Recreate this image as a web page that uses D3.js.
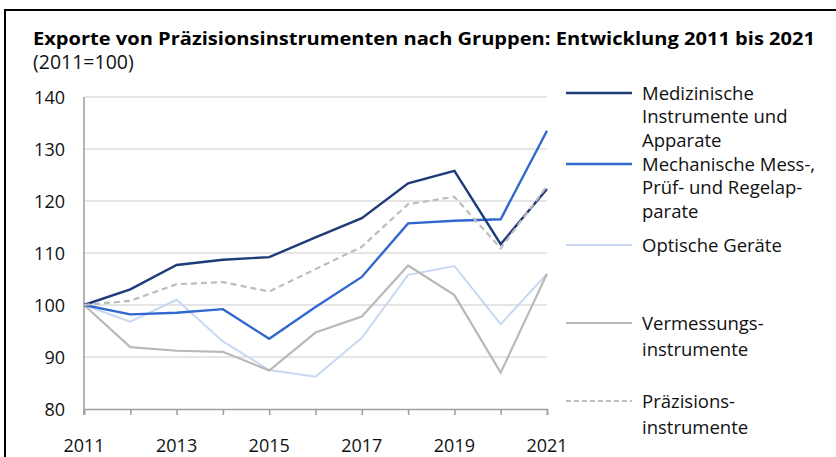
<!DOCTYPE html>
<html>
<head>
<meta charset="utf-8">
<script src="https://cdn.jsdelivr.net/npm/d3@7"></script>
<style>
  body { margin: 0; background: #fff; }
  svg { display: block; font-family: "Open Sans", sans-serif; }
</style>
</head>
<body>
<svg id="chart" width="836" height="457"></svg>
<script>
var years = [2011, 2012, 2013, 2014, 2015, 2016, 2017, 2018, 2019, 2020, 2021]
var yTicks = [80, 90, 100, 110, 120, 130, 140]
var xLabels = [2011, 2013, 2015, 2017, 2019, 2021]

var medizinische = [100, 103, 107.7, 108.7, 109.2, 113, 116.7, 123.4, 125.8, 111.7, 122.3]
var mechanische = [100, 98.2, 98.5, 99.2, 93.5, 99.6, 105.4, 115.7, 116.2, 116.5, 133.5]
var optische = [100, 96.8, 101, 93, 87.5, 86.2, 93.7, 105.8, 107.5, 96.3, 106]
var vermessung = [100, 91.9, 91.2, 91.0, 87.4, 94.7, 97.8, 107.6, 101.9, 87, 106]
var praezision = [100, 100.8, 104, 104.4, 102.6, 106.9, 111.2, 119.4, 120.8, 110.9, 122.9]

var seriesNames = [
    ["Medizinische", "Instrumente und", "Apparate"],
    ["Mechanische Mess-,", "Prüf- und Regelap-", "parate"],
    ["Optische Geräte"],
    ["Vermessungs-", "instrumente"],
    ["Präzisions-", "instrumente"]
]

var svg = d3.select("#chart")

// frame
svg.append("rect")
    .attr("x", 5).attr("y", 10)
    .attr("width", 840).attr("height", 460)
    .attr("fill", "none")
    .attr("stroke", "#000")
    .attr("stroke-width", 2)

svg.append("text")
    .attr("x", 33).attr("y", 45)
    .attr("font-size", 17.5)
    .attr("font-weight", "bold")
    .attr("fill", "#000")
    .attr("textLength", 782)
    .attr("lengthAdjust", "spacingAndGlyphs")
    .text("Exporte von Präzisionsinstrumenten nach Gruppen: Entwicklung 2011 bis 2021")

svg.append("text")
    .attr("x", 33).attr("y", 69)
    .attr("font-size", 19.5)
    .attr("fill", "#111")
    .text("(2011=100)")

var x = d3.scaleLinear().domain([2011, 2021]).range([84, 547])
var y = d3.scaleLinear().domain([80, 140]).range([409, 97])

// grid
svg.append("g")
    .selectAll("line")
    .data(yTicks.filter(d => d > 80))
    .enter()
    .append("line")
    .attr("x1", x(2011)).attr("x2", x(2021))
    .attr("y1", d => y(d)).attr("y2", d => y(d))
    .attr("stroke", "#dcdcdc")
    .attr("stroke-width", 1.3)

// y labels
svg.append("g")
    .selectAll("text")
    .data(yTicks)
    .enter()
    .append("text")
    .attr("x", 65)
    .attr("y", d => y(d) + 6.5)
    .attr("text-anchor", "end")
    .attr("font-size", 18)
    .attr("fill", "#111")
    .text(d => d)

// x axis
var xAxis = d3.axisBottom(x)
    .tickValues(years)
    .tickSize(6)
    .tickFormat("")
var gx = svg.append("g")
    .attr("transform", "translate(0," + y(80) + ")")
    .call(xAxis)
gx.select(".domain").attr("stroke", "#a0a0a0").attr("stroke-width", 1.6)
gx.selectAll(".tick line").attr("stroke", "#a0a0a0").attr("stroke-width", 1.6)

svg.append("line")
    .attr("x1", x(2011)).attr("x2", x(2011))
    .attr("y1", y(140)).attr("y2", y(80) + 6)
    .attr("stroke", "#a0a0a0")
    .attr("stroke-width", 1.6)

svg.append("g")
    .selectAll("text")
    .data(xLabels)
    .enter()
    .append("text")
    .attr("x", d => x(d))
    .attr("y", 452)
    .attr("text-anchor", "middle")
    .attr("font-size", 18)
    .attr("fill", "#111")
    .text(d => d)

var series = [
    {values: optische, color: "#c8d8f3", width: 2, dash: null, legend: 2},
    {values: vermessung, color: "#b9b9b9", width: 2.2, dash: null, legend: 3},
    {values: mechanische, color: "#3068cf", width: 2.4, dash: null, legend: 1},
    {values: medizinische, color: "#1e3b78", width: 2.4, dash: null, legend: 0},
    {values: praezision, color: "#bdbdbd", width: 2.2, dash: "6,4", legend: 4}
]

var line = d3.line()
    .x((d, i) => x(years[i]))
    .y(d => y(d))

svg.append("g")
    .selectAll("path")
    .data(series)
    .enter()
    .append("path")
    .attr("d", d => line(d.values))
    .attr("fill", "none")
    .attr("stroke", d => d.color)
    .attr("stroke-width", d => d.width)
    .attr("stroke-dasharray", d => d.dash)
    .attr("stroke-linejoin", "miter")

// legend
var legendY = [93, 164, 245, 323, 401]
var legendOrder = series.slice().sort((a, b) => a.legend - b.legend)
var lg = svg.append("g")
legendOrder.forEach((s, k) => {
    lg.append("line")
        .attr("x1", 566).attr("x2", 632)
        .attr("y1", legendY[k]).attr("y2", legendY[k])
        .attr("stroke", s.color)
        .attr("stroke-width", s.width)
        .attr("stroke-dasharray", s.dash ? "5,3" : null)
    var t = lg.append("text")
        .attr("x", 642)
        .attr("y", legendY[k] + 6.5)
        .attr("font-size", 18.5)
        .attr("fill", "#111")
    seriesNames[k].forEach((n, j) => {
        t.append("tspan")
            .attr("x", 642)
            .attr("dy", j == 0 ? 0 : (k >= 3 ? 26 : 23.6))
            .text(n)
    })
})
</script>
</body>
</html>
